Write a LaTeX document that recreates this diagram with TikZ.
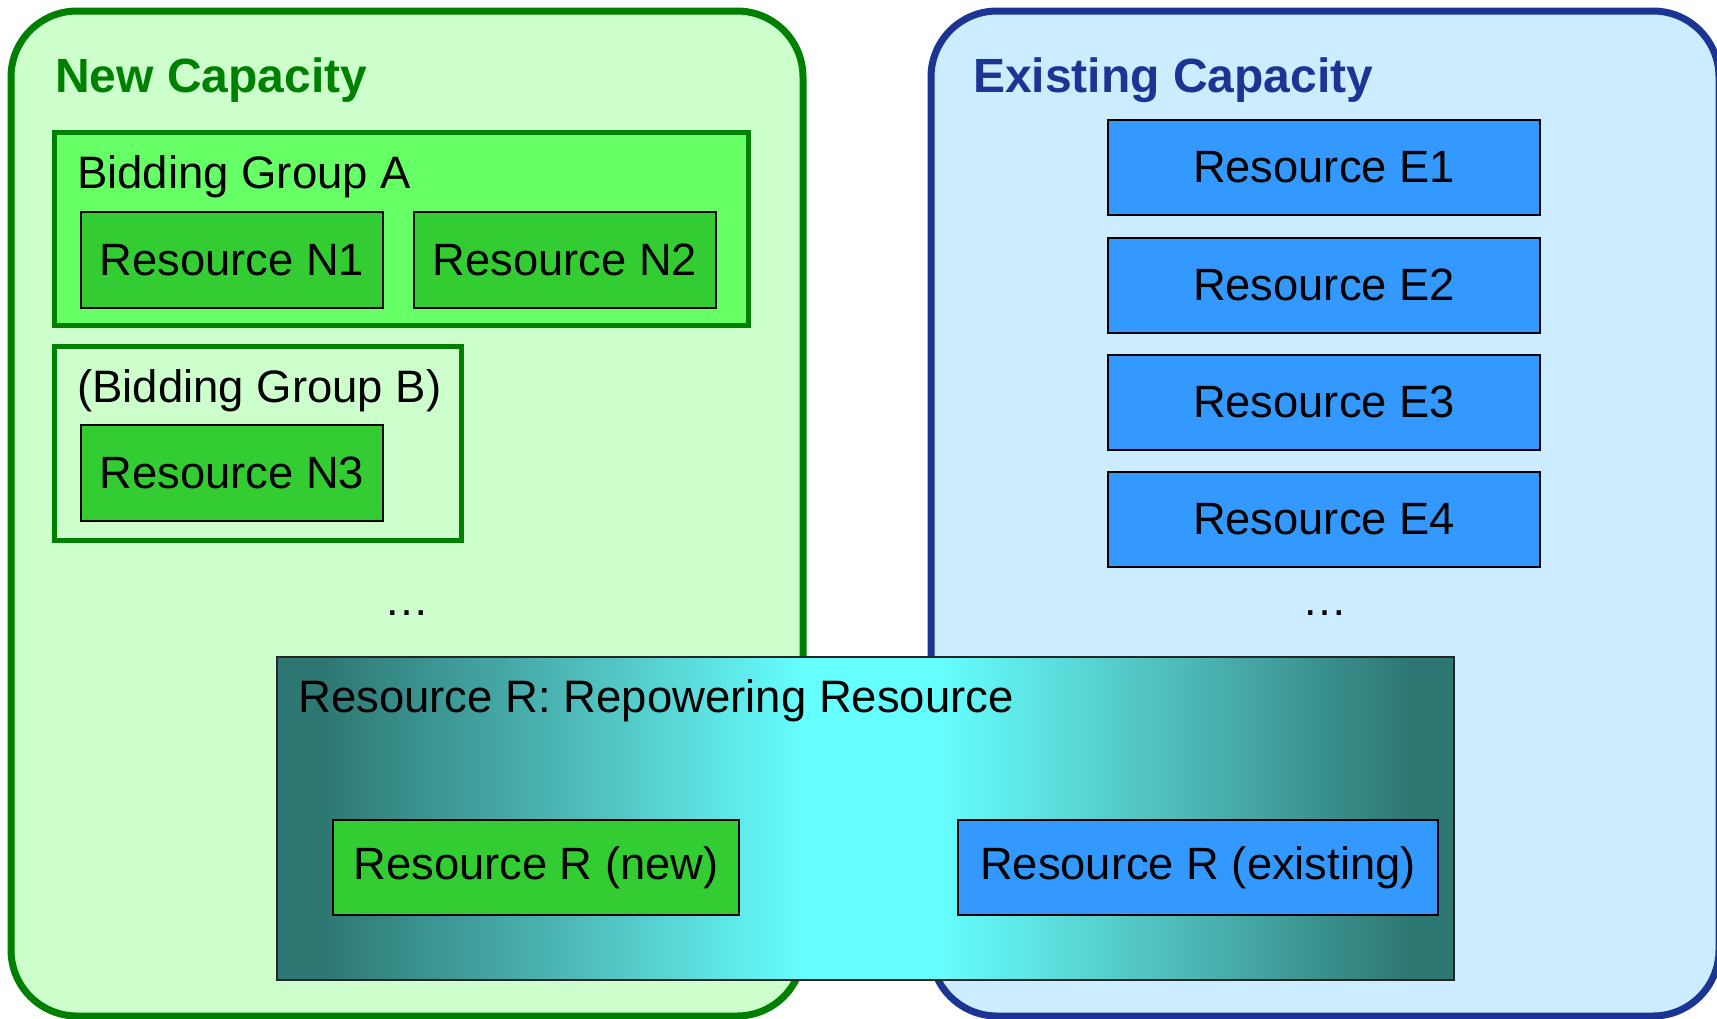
\documentclass[tikz,border=0pt]{standalone}
\usepackage{fontspec}
\setmainfont{Liberation Sans}
\definecolor{gfill}{HTML}{CCFFCC}
\definecolor{gstroke}{HTML}{008000}
\definecolor{bfill}{HTML}{CCECFF}
\definecolor{bstroke}{HTML}{1C3494}
\definecolor{grpfill}{HTML}{66FF66}
\definecolor{resgreen}{HTML}{33CC33}
\definecolor{resblue}{HTML}{3399FF}
\definecolor{rdark}{HTML}{2E7874}
\definecolor{rmid}{HTML}{4FBDBB}
\definecolor{rcyan}{HTML}{66FFFF}
\pgfdeclarehorizontalshading{rshade}{100bp}{color(0bp)=(rdark); color(27bp)=(rdark); color(38bp)=(rmid); color(47.5bp)=(rcyan); color(53bp)=(rcyan); color(63bp)=(rmid); color(73bp)=(rdark); color(100bp)=(rdark)}
\begin{document}
\begin{tikzpicture}[x=1pt,y=-1pt,
  container/.style={line width=7pt, rounded corners=66pt, inner sep=0pt},
  groupbox/.style={draw=gstroke, line width=5pt, inner sep=0pt},
  resbox/.style={draw=black, line width=2pt, inner sep=0pt, minimum height=96pt, font=\fontsize{45.3}{52}\selectfont},
  greenres/.style={resbox, fill=resgreen},
  blueres/.style={resbox, fill=resblue},
  title/.style={anchor=base west, inner sep=0pt, font=\fontsize{48}{56}\selectfont\bfseries},
  label/.style={anchor=base west, inner sep=0pt, font=\fontsize{45.5}{52}\selectfont},
  dots/.style={anchor=base, inner sep=0pt, font=\fontsize{45}{52}\selectfont}]
\useasboundingbox (0,0) rectangle (1717,1018);
% containers
\node[container, draw=gstroke, fill=gfill, minimum width=792pt, minimum height=1005pt] (newcap) at (407,513.5) {};
\node[container, draw=bstroke, fill=bfill, minimum width=788pt, minimum height=1005pt] (existcap) at (1325,513.5) {};
\node[title, text=gstroke] (newtitle) at (55,92) {New Capacity};
\node[title, text=bstroke] (existtitle) at (973,92) {Existing Capacity};
% bidding group A
\node[groupbox, fill=grpfill, minimum width=694pt, minimum height=193pt] (grpA) at (401,228.5) {};
\node[label] (grpAlabel) at (77,188) {Bidding Group A};
\node[greenres, minimum width=302pt] (n1) at (232,260) {Resource N1};
\node[greenres, minimum width=302pt] (n2) at (565,260) {Resource N2};
% bidding group B
\node[groupbox, fill=gfill, minimum width=407pt, minimum height=194pt] (grpB) at (257.5,443) {};
\node[label] (grpBlabel) at (77,402) {(Bidding Group B)};
\node[greenres, minimum width=302pt] (n3) at (232,473) {Resource N3};
\node[dots] (ndots) at (407,615) {…};
% existing resources
\node[blueres, minimum width=432pt, minimum height=95pt] (e1) at (1324,167.5) {Resource E1};
\node[blueres, minimum width=432pt, minimum height=95pt] (e2) at (1324,285) {Resource E2};
\node[blueres, minimum width=432pt, minimum height=95pt] (e3) at (1324,402) {Resource E3};
\node[blueres, minimum width=432pt, minimum height=95pt] (e4) at (1324,519) {Resource E4};
\node[dots] (edots) at (1325,615) {…};
% repowering resource
\node[draw=black!85, line width=2pt, shading=rshade, minimum width=1177pt, minimum height=323pt, inner sep=0pt] (rbox) at (865.5,818.5) {};
\node[label] (rtitle) at (298,712) {Resource R: Repowering Resource};
\node[greenres, minimum width=406pt, minimum height=95pt] (rnew) at (536,867.5) {Resource R (new)};
\node[blueres, minimum width=480pt, minimum height=95pt] (rexist) at (1198,867.5) {Resource R (existing)};
\end{tikzpicture}
\end{document}
